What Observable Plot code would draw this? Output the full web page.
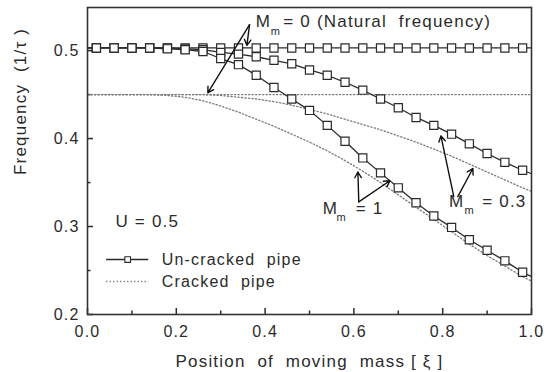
<!DOCTYPE html>
<html><head><meta charset="utf-8">
<script src="https://cdn.jsdelivr.net/npm/d3@7"></script>
<script src="https://cdn.jsdelivr.net/npm/@observablehq/plot@0.6"></script>
<style>
body{margin:0;background:#fff;}
svg text{white-space:pre;letter-spacing:1.2px;}
</style></head><body><div id="chart"></div>
<script>
// Position of moving mass (xi)
const xPos = [0,0.02,0.06,0.10,0.14,0.18,0.22,0.26,0.30,0.34,0.38,0.42,0.46,0.50,0.54,0.58,0.62,0.66,0.70,0.74,0.78,0.82,0.86,0.90,0.94,0.98,1.0];
// Un-cracked pipe
const uncrackedM0  = [0.503,0.503,0.503,0.503,0.503,0.503,0.503,0.503,0.503,0.503,0.503,0.503,0.503,0.503,0.503,0.503,0.503,0.503,0.503,0.503,0.503,0.503,0.503,0.503,0.503,0.503,0.503];
const uncrackedM03 = [0.503,0.503,0.503,0.503,0.503,0.503,0.502,0.501,0.498,0.496,0.493,0.489,0.485,0.478,0.472,0.464,0.455,0.445,0.435,0.424,0.415,0.405,0.394,0.383,0.373,0.364,0.360];
const uncrackedM1  = [0.503,0.503,0.503,0.503,0.503,0.502,0.501,0.499,0.491,0.484,0.472,0.458,0.445,0.432,0.415,0.397,0.378,0.361,0.344,0.327,0.312,0.299,0.285,0.273,0.261,0.248,0.243];
// Cracked pipe
const crackedM0  = [0.45,0.45,0.45,0.45,0.45,0.45,0.45,0.45,0.45,0.45,0.45,0.45,0.45,0.45,0.45,0.45,0.45,0.45,0.45,0.45,0.45,0.45,0.45,0.45,0.45,0.45,0.45];
const crackedM03 = [0.45,0.45,0.45,0.45,0.45,0.45,0.45,0.45,0.449,0.447,0.445,0.442,0.438,0.433,0.428,0.422,0.416,0.410,0.403,0.396,0.388,0.380,0.371,0.362,0.353,0.344,0.340];
const crackedM1  = [0.45,0.45,0.45,0.45,0.45,0.449,0.447,0.443,0.437,0.430,0.422,0.414,0.405,0.396,0.386,0.375,0.363,0.350,0.336,0.322,0.308,0.294,0.280,0.267,0.255,0.243,0.238];

const xTicks = [0,0.2,0.4,0.6,0.8,1.0];
const xMinor = [0.1,0.3,0.5,0.7,0.9];
const yTicks = [0.2,0.3,0.4,0.5];
const yMinor = [0.25,0.35,0.45];

const xLabel = "Position  of  moving  mass [ ξ ]";
const yLabel = "Frequency  (1/τ )";
const legendNames = ["Un-cracked  pipe", "Cracked  pipe"];
const paramText = "U = 0.5";

// annotation anchors (data units)
const labels = [
  {x:0.379, y:0.5325, t:"M", sub:false},
  {x:0.413, y:0.5215, t:"m", sub:true},
  {x:0.441, y:0.5325, t:"= 0 (Natural  frequency)", sub:false},
  {x:0.530, y:0.3205, t:"M", sub:false},
  {x:0.561, y:0.3105, t:"m", sub:true},
  {x:0.604, y:0.3205, t:"= 1", sub:false},
  {x:0.814, y:0.328, t:"M", sub:false},
  {x:0.849, y:0.318, t:"m", sub:true},
  {x:0.889, y:0.328, t:"= 0.3", sub:false}
];
const arrows = [
  {x1:0.365,y1:0.5295,x2:0.271,y2:0.452},
  {x1:0.365,y1:0.5295,x2:0.359,y2:0.506},
  {x1:0.611,y1:0.328,x2:0.609,y2:0.362},
  {x1:0.611,y1:0.328,x2:0.681,y2:0.352},
  {x1:0.825,y1:0.334,x2:0.796,y2:0.403},
  {x1:0.834,y1:0.334,x2:0.868,y2:0.366}
];
const paramPos = {x:0.063, y:0.3057};
const legendPos = {x1:0.043, x2:0.138, xm:0.0905, xt:0.167, y:[0.2625,0.2375]};

const rows = (arr, s) => arr.map((y,i)=>({x:xPos[i], y, s, i}));
const un = [...rows(uncrackedM0,"u0"), ...rows(uncrackedM03,"u03"), ...rows(uncrackedM1,"u1")];
const cr = [...rows(crackedM0,"c0"), ...rows(crackedM03,"c03"), ...rows(crackedM1,"c1")];
const unDots = un.filter(d => d.i>0 && d.i<xPos.length-1);

const ink = "#2b2b2b";
const dotted = {stroke:"#7a7a7a", strokeWidth:1.3, strokeDasharray:"1.3,2.2"};

const W = 560, H = 372, mL = 87, mR = 29, mT = 7, mB = 58;
const fw = W - mL - mR, fh = H - mT - mB;
const tick = {stroke:ink, strokeWidth:1.5};

const chart = Plot.plot({
  width:W, height:H,
  marginLeft:mL, marginRight:mR, marginTop:mT, marginBottom:mB,
  style:{fontFamily:"'Liberation Sans', Arial, sans-serif", fontSize:"16px", color:ink, background:"#fff"},
  x:{domain:[0,1]},
  y:{domain:[0.2,0.549]},
  marks:[
    Plot.axisX(xTicks, {tickSize:0, tickPadding:11, tickFormat:d3.format(".1f"), fontSize:16, label:null}),
    Plot.axisY(yTicks, {tickSize:0, tickPadding:8, tickFormat:d3.format(".1f"), fontSize:16, label:null}),
    Plot.ruleX(xTicks, {x:d=>d, insetTop:fh-6, ...tick}),
    Plot.ruleX(xMinor, {x:d=>d, insetTop:fh-3.5, ...tick}),
    Plot.ruleY(yTicks, {y:d=>d, insetRight:fw-6, ...tick}),
    Plot.ruleY(yMinor, {y:d=>d, insetRight:fw-3.5, ...tick}),
    Plot.text([xLabel], {frameAnchor:"bottom", dy:52, fontSize:17, fill:ink}),
    Plot.text([yLabel], {frameAnchor:"left", rotate:-90, dx:-67, dy:14, fontSize:17, fill:ink}),
    Plot.line(cr, {x:"x", y:"y", z:"s", ...dotted}),
    Plot.line(un, {x:"x", y:"y", z:"s", stroke:ink, strokeWidth:1.3}),
    Plot.dot(unDots, {x:"x", y:"y", symbol:"square", r:4.6, fill:"white", stroke:ink, strokeWidth:1.2}),
    Plot.arrow(arrows, {x1:"x1", y1:"y1", x2:"x2", y2:"y2", stroke:"#111", strokeWidth:1.4, headLength:7}),
    Plot.text(labels, {x:"x", y:"y", text:"t", textAnchor:"start", fontSize:d=>d.sub?11:17, fill:ink}),
    Plot.text([paramText], {x:()=>paramPos.x, y:()=>paramPos.y, textAnchor:"start", fontSize:17, fill:ink}),
    Plot.ruleY([legendPos.y[0]], {x1:legendPos.x1, x2:legendPos.x2, y:d=>d, stroke:ink, strokeWidth:1.3}),
    Plot.ruleY([legendPos.y[1]], {x1:legendPos.x1, x2:legendPos.x2, y:d=>d, ...dotted}),
    Plot.dot([legendPos.y[0]], {x:()=>legendPos.xm, y:d=>d, symbol:"square", r:3.2, fill:"white", stroke:ink, strokeWidth:1.1}),
    Plot.text(legendNames, {x:()=>legendPos.xt, y:(d,i)=>legendPos.y[i], textAnchor:"start", fontSize:16, fill:ink}),
    Plot.frame({stroke:"#333", strokeWidth:1.6})
  ]
});
document.getElementById("chart").appendChild(chart);
</script></body></html>
